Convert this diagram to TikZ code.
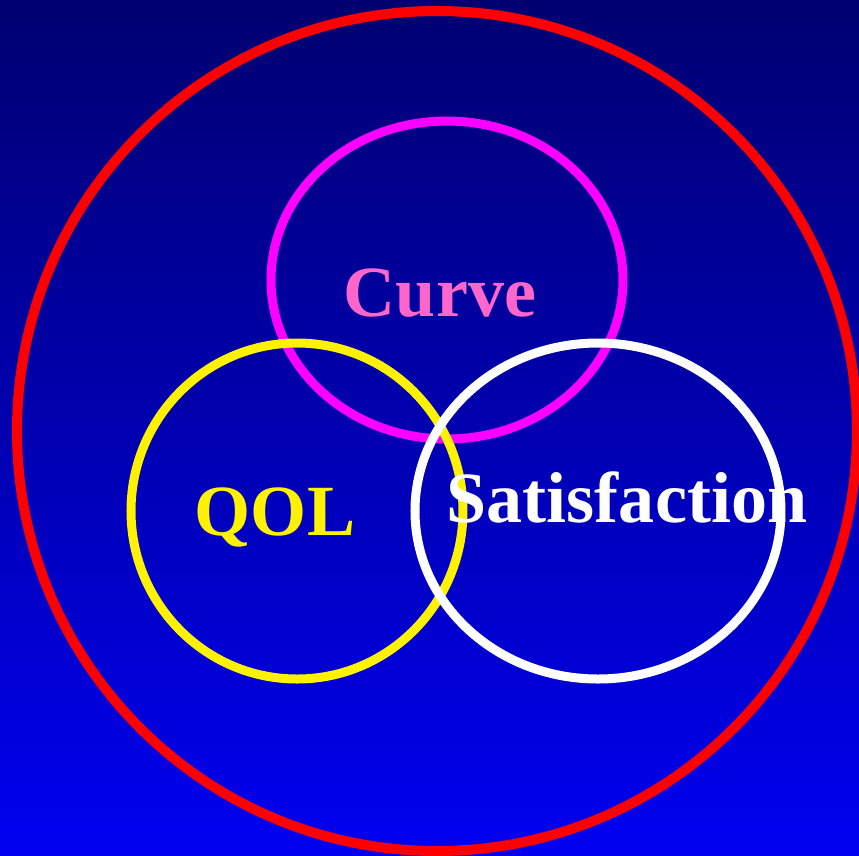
\documentclass[tikz,border=0pt]{standalone}
\usepackage{fontspec}
\setmainfont{Liberation Serif}
\usetikzlibrary{positioning}

\definecolor{navytop}{RGB}{0,0,112}
\definecolor{bluebottom}{RGB}{0,0,240}
\definecolor{curvepink}{RGB}{255,102,204}
\definecolor{ringmagenta}{RGB}{255,0,255}

\begin{document}
\begin{tikzpicture}[
    x=0.01cm, y=-0.01cm,
    ring/.style={
        line width=0.09cm
    },
    label/.style={
        font=\fontsize{20.5}{24}\selectfont\bfseries,
        anchor=base,
        inner sep=0pt
    }
]

\shade[top color=navytop, bottom color=bluebottom]
    (0,0) rectangle (859,856);
\useasboundingbox (0,0) rectangle (859,856);

\draw[ring, red, line width=0.1cm] (437,431) circle [radius=420];

\draw[ring, ringmagenta] (447,280) ellipse [x radius=176, y radius=159];

\draw[ring, yellow] (297,511) ellipse [x radius=166, y radius=168];

\draw[ring, white] (598,511) ellipse [x radius=183, y radius=168];

\node[label, text=curvepink] (curve) at (440,316) {Curve};

\node[label, text=yellow] (qol) at (275,535) {QOL};

\node[label, text=white] (satisfaction) at (627,522) {Satisfaction};

\end{tikzpicture}
\end{document}
